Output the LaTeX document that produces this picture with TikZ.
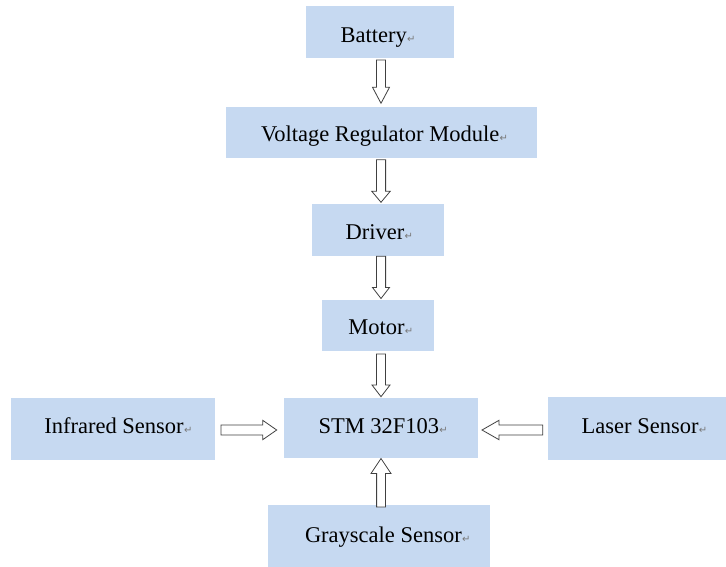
\documentclass[tikz,border=0pt]{standalone}
\usepackage{fontspec}
\setmainfont{Liberation Serif}
\newfontfamily\symf{DejaVu Sans}
\usetikzlibrary{calc}
\definecolor{boxblue}{RGB}{198,217,241}
\definecolor{arrline}{RGB}{64,64,64}
\definecolor{retgray}{RGB}{120,120,120}
\newcommand\retmark{\hspace{0.3pt}{\symf\fontsize{10}{11}\selectfont\textcolor{retgray}{↵}}}
\newcommand\blockarrow[5]{% start, end, head length, shaft half width, head half width
  \coordinate (ba-c) at ($(#2)!#3!(#1)$);
  \draw[hollowarrow] ($(#1)!#4!-90:(#2)$) -- ($(ba-c)!#4!-90:(#2)$) -- ($(ba-c)!#5!-90:(#2)$) -- (#2) -- ($(ba-c)!#5!90:(#2)$) -- ($(ba-c)!#4!90:(#2)$) -- ($(#1)!#4!90:(#2)$) -- cycle;}
\tikzset{
  box/.style={fill=boxblue, draw=none, inner sep=0pt, outer sep=0pt},
  lbl/.style={anchor=base west, inner sep=0pt, outer sep=0pt, font=\rmfamily\fontsize{22.5}{27}\selectfont},
  hollowarrow/.style={draw=arrline, fill=white, line width=0.8pt, line join=miter}
}
\begin{document}
\begin{tikzpicture}[x=1pt,y=-1pt]
\useasboundingbox (0,0) rectangle (726,567);
% boxes
\node[box, minimum width=148pt, minimum height=52pt] (bat) at (380,32) {};
\node[box, minimum width=311pt, minimum height=51pt] (vrm) at (381.5,132.5) {};
\node[box, minimum width=132.6pt, minimum height=51.7pt] (drv) at (378,229.85) {};
\node[box, minimum width=112.3pt, minimum height=51pt] (mot) at (378.15,325.5) {};
\node[box, minimum width=194pt, minimum height=59.5pt] (stm) at (381,427.75) {};
\node[box, minimum width=204.3pt, minimum height=62pt] (ir) at (113.15,429) {};
\node[box, minimum width=178.3pt, minimum height=62.7pt] (las) at (636.85,428.65) {};
\node[box, minimum width=221.7pt, minimum height=62pt] (gry) at (379.15,536) {};
% texts
\node[lbl] (batT) at (340.7,42.7) {Battery\retmark};
\node[lbl] (vrmT) at (261,141.7) {Voltage Regulator Module\retmark};
\node[lbl] (drvT) at (345.7,239.3) {Driver\retmark};
\node[lbl] (motT) at (348.3,334.3) {Motor\retmark};
\node[lbl] (stmT) at (318.5,433) {STM 32F103\retmark};
\node[lbl] (irT) at (44.4,433) {Infrared Sensor\retmark};
\node[lbl] (lasT) at (581.7,433.3) {Laser Sensor\retmark};
\node[lbl] (gryT) at (305,542.7) {Grayscale Sensor\retmark};
% axes for arrows
\coordinate (ax) at (381,0);
\coordinate (hy) at (0,430);
% arrow ends
\coordinate (a1s) at ($(bat.south -| ax)+(0,2)$);
\coordinate (a1e) at ($(vrm.north -| ax)+(0,-3.7)$);
\coordinate (a2s) at ($(vrm.south -| ax)+(0,1.7)$);
\coordinate (a2e) at ($(drv.north -| ax)+(0,-1.7)$);
\coordinate (a3s) at ($(drv.south -| ax)+(0,0.5)$);
\coordinate (a3e) at ($(mot.north -| ax)+(0,-1.5)$);
\coordinate (a4s) at ($(mot.south -| ax)+(0,3)$);
\coordinate (a4e) at ($(stm.north -| ax)+(0,-1.3)$);
\coordinate (a5s) at ($(ir.east |- hy)+(5.7,0)$);
\coordinate (a5e) at ($(stm.west |- hy)+(-7.3,0)$);
\coordinate (a6s) at ($(las.west |- hy)+(-5,0)$);
\coordinate (a6e) at ($(stm.east |- hy)+(4,0)$);
\coordinate (a7s) at ($(gry.north -| ax)+(0,2)$);
\coordinate (a7e) at ($(stm.south -| ax)+(0,1)$);
% arrows
\blockarrow{a1s}{a1e}{16pt}{4.5pt}{8.5pt}
\blockarrow{a2s}{a2e}{11pt}{4.6pt}{9.2pt}
\blockarrow{a3s}{a3e}{11pt}{4.6pt}{8.5pt}
\blockarrow{a4s}{a4e}{11.7pt}{4.5pt}{9pt}
\blockarrow{a5s}{a5e}{14pt}{5pt}{9.7pt}
\blockarrow{a6s}{a6e}{17pt}{5pt}{9.7pt}
\blockarrow{a7s}{a7e}{15pt}{4.4pt}{10pt}
\end{tikzpicture}
\end{document}
